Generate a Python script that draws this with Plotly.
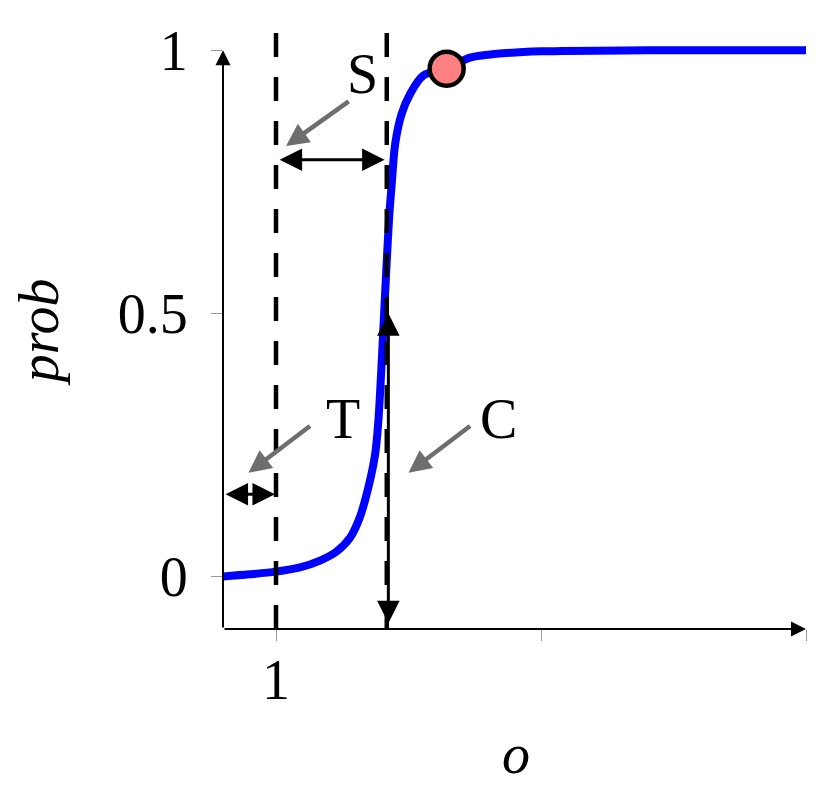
import plotly.graph_objects as go

# ── Data ─────────────────────────────────────────────────────────────────────
O_VALUES = [0, 0.5, 1.0, 1.45, 1.83, 2.14, 2.40, 2.58, 2.74, 2.87, 2.93, 2.98,
            3.03, 3.09, 3.14, 3.18, 3.25, 3.37, 3.53, 3.78, 4.22, 4.66, 5.04,
            6, 8, 11]
PROB = [0, 0.004, 0.009, 0.017, 0.030, 0.047, 0.074, 0.112, 0.168, 0.232,
        0.294, 0.38, 0.48, 0.60, 0.69, 0.741, 0.823, 0.879, 0.917, 0.952,
        0.966, 0.986, 0.992, 0.998, 1.0, 1.0]

POINT_O = [4.22]
POINT_PROB = [0.965]

DASH_O = [1, 3.09]           # T and S/C markers
X_TICKS = [1, 6, 11]
X_TICK_TEXT = ['1', '', '']
Y_TICKS = [0, 0.5, 1]
Y_TICK_TEXT = ['0', '0.5', '1']

X_RANGE = [0, 11]
Y_RANGE = [-0.1, 1.05]

# ── Style ────────────────────────────────────────────────────────────────────
FONT = 'Liberation Serif, DejaVu Serif, serif'
BLACK = '#000000'
GRAY = '#6e6e6e'
TICK = '#9a9a9a'
BLUE = '#0000ff'
SALMON = '#ff8080'
FS = 56

fig = go.Figure()

fig.add_trace(go.Scatter(
    x=O_VALUES, y=PROB, mode='lines',
    line=dict(color=BLUE, width=8, shape='spline', smoothing=0.9),
    hoverinfo='skip',
))

# dashed guides
for xv in DASH_O:
    fig.add_shape(type='line', x0=xv, x1=xv, y0=Y_RANGE[0], y1=1.04,
                  xref='x', yref='y',
                  line=dict(color=BLACK, width=4.5, dash='24px,20px'))

fig.add_trace(go.Scatter(
    x=POINT_O, y=POINT_PROB, mode='markers',
    marker=dict(color=SALMON, size=34, line=dict(color=BLACK, width=4.5)),
    hoverinfo='skip',
))


def arrow(x, y, ax, ay, color=BLACK, width=3, both=False, size=1.0):
    fig.add_annotation(
        x=x, y=y, ax=ax, ay=ay, xref='x', yref='y', axref='x', ayref='y',
        text='', showarrow=True, arrowhead=2, arrowsize=size,
        arrowwidth=width, arrowcolor=color,
        arrowside='end+start' if both else 'end',
        startarrowhead=2, startarrowsize=size, standoff=0, startstandoff=0,
    )


# axis lines with arrows
arrow(X_RANGE[1], Y_RANGE[0], X_RANGE[0], Y_RANGE[0], width=2, size=1.5)
arrow(X_RANGE[0], 1.0, X_RANGE[0], Y_RANGE[0], width=2, size=1.5)

# measurement arrows
arrow(DASH_O[1] - 0.04, 0.792, DASH_O[0] + 0.04, 0.792, width=3, both=True, size=1.5)
arrow(DASH_O[0] - 0.02, 0.156, X_RANGE[0] + 0.02, 0.156, width=3, both=True, size=1.5)
arrow(DASH_O[1] + 0.03, 0.5, DASH_O[1] + 0.03, -0.092, width=3, both=True, size=1.5)

# gray pointers
arrow(1.19, 0.818, 2.4, 0.905, color=GRAY, width=4.5, size=1.0)
arrow(0.48, 0.197, 1.67, 0.288, color=GRAY, width=4.5, size=1.0)
arrow(3.5, 0.197, 4.69, 0.288, color=GRAY, width=4.5, size=1.0)

for label, lx, ly in [('S', 2.64, 0.955), ('T', 2.26, 0.30), ('C', 5.19, 0.30)]:
    fig.add_annotation(x=lx, y=ly, xref='x', yref='y', text=label,
                       showarrow=False, font=dict(size=FS, color=BLACK, family=FONT))

# axis titles
fig.add_annotation(x=-0.315, y=0.491, xref='paper', yref='paper',
                   xanchor='center', yanchor='middle',
                   text='<i>prob</i>', textangle=-90, showarrow=False,
                   font=dict(size=FS, color=BLACK, family=FONT))
fig.add_annotation(x=0.5026, y=-0.207, xref='paper', yref='paper',
                   xanchor='center', yanchor='middle',
                   text='<i>o</i>', showarrow=False,
                   font=dict(size=FS, color=BLACK, family=FONT))

AX = dict(showgrid=False, zeroline=False, showline=False)

fig.update_layout(
    width=830, height=791,
    margin=dict(l=215, r=32, t=12, b=170),
    paper_bgcolor='white', plot_bgcolor='white',
    showlegend=False,
    font=dict(family=FONT, color=BLACK, size=FS),
    xaxis=dict(**AX, range=X_RANGE, tickvals=X_TICKS, ticktext=X_TICK_TEXT,
               ticks='outside', ticklen=11, tickwidth=1.2, tickcolor=TICK,
               ticklabelstandoff=-9, tickfont=dict(size=FS, family=FONT)),
    yaxis=dict(**AX, range=Y_RANGE, tickvals=Y_TICKS, ticktext=Y_TICK_TEXT,
               ticks='outside', ticklen=11, tickwidth=1.2, tickcolor=TICK,
               ticklabelstandoff=12, tickfont=dict(size=FS, family=FONT)),
    xaxis2=dict(**AX, range=X_RANGE, overlaying='x', anchor='y', side='bottom',
                tickvals=X_TICKS, ticks='inside', ticklen=11, tickwidth=1.2,
                tickcolor=TICK, showticklabels=False),
    yaxis2=dict(**AX, range=Y_RANGE, overlaying='y', anchor='x', side='left',
                tickvals=Y_TICKS, ticks='inside', ticklen=11, tickwidth=1.2,
                tickcolor=TICK, showticklabels=False),
)

fig.write_html('out.html')
